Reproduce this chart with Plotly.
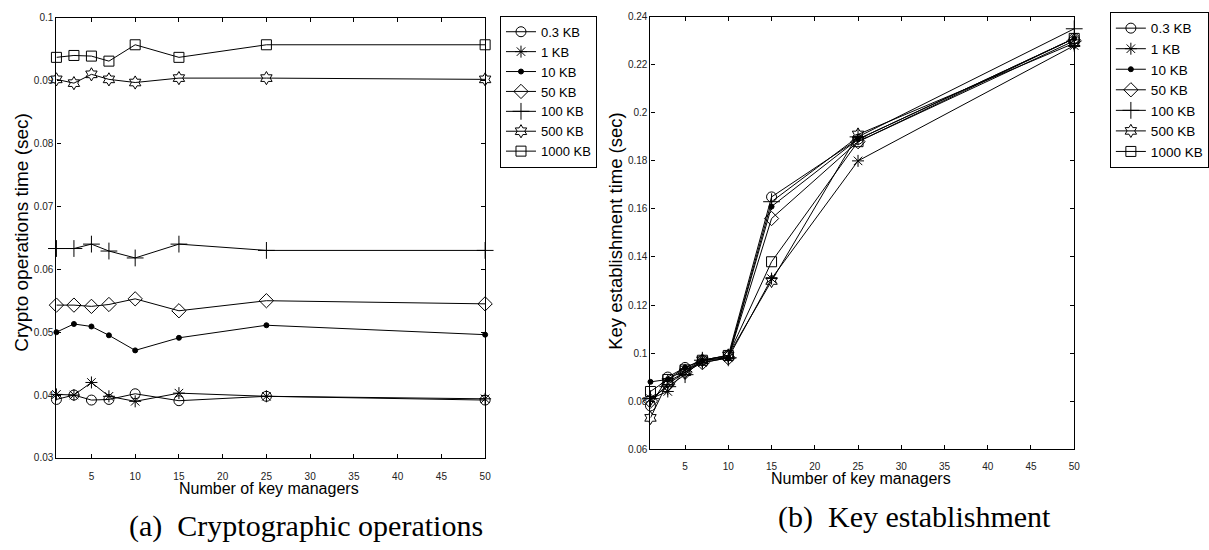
import plotly.graph_objects as go

W, H = 1209, 550

x_managers = [1, 3, 5, 7, 10, 15, 25, 50]
series_names = ["0.3 KB", "1 KB", "10 KB", "50 KB", "100 KB", "500 KB", "1000 KB"]
symbols = ["circle-open", "asterisk-open", "circle", "diamond-open", "cross-thin-open", "hexagram-open", "square-open"]
sizes = [10, 10, 5, 11, 12, 10, 10]

# (a) Crypto operations time (sec)
crypto_03 = [0.0393, 0.0400, 0.0392, 0.0393, 0.0402, 0.0391, 0.0398, 0.0392]
crypto_1 = [0.0401, 0.0400, 0.0420, 0.0398, 0.0390, 0.0403, 0.0398, 0.0394]
crypto_10 = [0.0500, 0.0513, 0.0509, 0.0495, 0.0471, 0.0491, 0.0511, 0.0496]
crypto_50 = [0.0543, 0.0543, 0.0541, 0.0544, 0.0553, 0.0534, 0.0550, 0.0545]
crypto_100 = [0.0633, 0.0633, 0.0640, 0.0629, 0.0618, 0.0640, 0.0630, 0.0630]
crypto_500 = [0.0902, 0.0896, 0.0910, 0.0902, 0.0897, 0.0904, 0.0904, 0.0902]
crypto_1000 = [0.0937, 0.0940, 0.0939, 0.0931, 0.0957, 0.0937, 0.0957, 0.0957]

# (b) Key establishment time (sec)
key_03 = [0.078, 0.090, 0.094, 0.097, 0.099, 0.165, 0.189, 0.231]
key_1 = [0.081, 0.084, 0.093, 0.096, 0.098, 0.131, 0.180, 0.228]
key_10 = [0.088, 0.089, 0.094, 0.097, 0.098, 0.161, 0.189, 0.231]
key_50 = [0.080, 0.087, 0.092, 0.096, 0.098, 0.156, 0.188, 0.230]
key_100 = [0.081, 0.086, 0.091, 0.097, 0.098, 0.163, 0.190, 0.235]
key_500 = [0.073, 0.088, 0.092, 0.097, 0.099, 0.130, 0.191, 0.229]
key_1000 = [0.084, 0.089, 0.093, 0.097, 0.099, 0.138, 0.188, 0.231]

x_ticks = [5, 10, 15, 20, 25, 30, 35, 40, 45, 50]
ya_ticks = [0.03, 0.04, 0.05, 0.06, 0.07, 0.08, 0.09, 0.1]
ya_labels = ["0.03", "0.04", "0.05", "0.06", "0.07", "0.08", "0.09", "0.1"]
yb_ticks = [0.06, 0.08, 0.1, 0.12, 0.14, 0.16, 0.18, 0.2, 0.22, 0.24]
yb_labels = ["0.06", "0.08", "0.1", "0.12", "0.14", "0.16", "0.18", "0.2", "0.22", "0.24"]

crypto = [crypto_03, crypto_1, crypto_10, crypto_50, crypto_100, crypto_500, crypto_1000]
keyest = [key_03, key_1, key_10, key_50, key_100, key_500, key_1000]

fig = go.Figure()
for name, sym, sz, ys in zip(series_names, symbols, sizes, crypto):
    fig.add_trace(go.Scatter(x=x_managers, y=ys, name=name, mode="lines+markers",
                             line=dict(color="black", width=1), cliponaxis=False,
                             marker=dict(symbol=sym, size=sz, color="black", line=dict(width=1, color="black")),
                             xaxis="x", yaxis="y", legend="legend"))
for name, sym, sz, ys in zip(series_names, symbols, sizes, keyest):
    fig.add_trace(go.Scatter(x=x_managers, y=ys, name=name, mode="lines+markers",
                             line=dict(color="black", width=1), cliponaxis=False,
                             marker=dict(symbol=sym, size=sz, color="black", line=dict(width=1, color="black")),
                             xaxis="x2", yaxis="y2", legend="legend2"))

def px_x(p):
    return p / W

def px_y(p):
    return 1 - p / H

axis_common = dict(showline=True, linecolor="black", linewidth=1.2, mirror="allticks",
                   ticks="inside", ticklen=4, tickcolor="black", showgrid=False, zeroline=False,
                   tickfont=dict(family="Arial", size=10, color="#222"))

fig.update_layout(
    width=W, height=H, margin=dict(l=0, r=0, t=0, b=0),
    paper_bgcolor="white", plot_bgcolor="white",
    xaxis=dict(domain=[px_x(57), px_x(490)], range=[1, 50], tickvals=x_ticks, anchor="y",
               ticklabelstandoff=9, **axis_common),
    yaxis=dict(domain=[px_y(462), px_y(12)], range=[0.03, 0.1], tickvals=ya_ticks, ticktext=ya_labels,
               anchor="x", **axis_common),
    xaxis2=dict(domain=[px_x(657), px_x(1085)], range=[1, 50], tickvals=x_ticks, anchor="y2",
                ticklabelstandoff=8, **axis_common),
    yaxis2=dict(domain=[px_y(453), px_y(11)], range=[0.06, 0.24], tickvals=yb_ticks, ticktext=yb_labels,
                anchor="x2", **axis_common),
    legend=dict(x=px_x(505), y=px_y(10), xanchor="left", yanchor="top", bgcolor="white",
                bordercolor="black", borderwidth=1, font=dict(family="Arial", size=13, color="black"),
                itemwidth=30, tracegroupgap=0),
    legend2=dict(x=px_x(1121), y=px_y(6), xanchor="left", yanchor="top", bgcolor="white",
                 bordercolor="black", borderwidth=1, font=dict(family="Arial", size=13.5, color="black"),
                 itemwidth=30, tracegroupgap=0),
    showlegend=True,
)

annotations = [
    dict(text="Crypto operations time (sec)", x=px_x(22), y=px_y(231), textangle=-90,
         font=dict(family="Arial", size=19, color="black"), xanchor="center"),
    dict(text="Key establishment time (sec)", x=px_x(622), y=px_y(230), textangle=-90,
         font=dict(family="Arial", size=18.5, color="black"), xanchor="center"),
    dict(text="Number of key managers", x=px_x(272), y=px_y(493),
         font=dict(family="Arial", size=16, color="black"), xanchor="center"),
    dict(text="Number of key managers", x=px_x(870), y=px_y(483),
         font=dict(family="Arial", size=16, color="black"), xanchor="center"),
    dict(text="(a)&nbsp; Cryptographic operations", x=px_x(128), y=px_y(532),
         font=dict(family="Liberation Serif", size=30, color="black"), xanchor="left"),
    dict(text="(b)&nbsp; Key establishment", x=px_x(924), y=px_y(522),
         font=dict(family="Liberation Serif", size=30, color="black"), xanchor="center"),
]
for a in annotations:
    a.update(xref="paper", yref="paper", showarrow=False, yanchor="middle")
fig.update_layout(annotations=annotations)

fig.write_html("out.html")
